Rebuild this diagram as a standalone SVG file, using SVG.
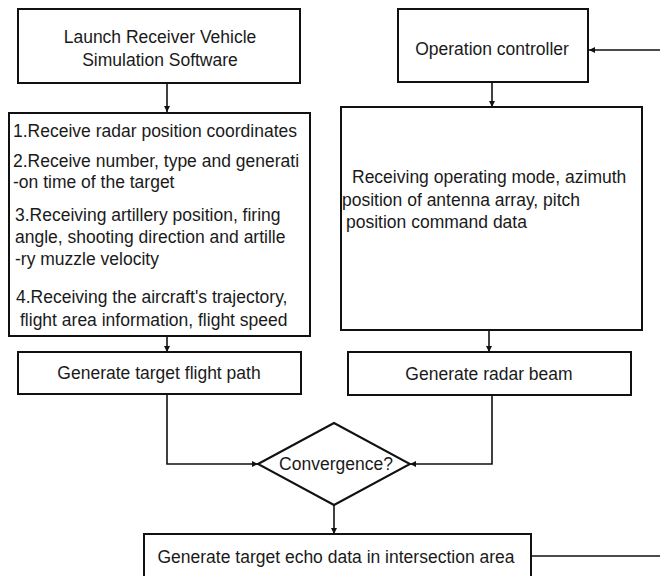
<svg xmlns="http://www.w3.org/2000/svg" width="660" height="576" viewBox="0 0 660 576">
<style>
.box{fill:#fff;stroke:#111;stroke-width:2}
.t{font-family:"Liberation Sans",Arial,sans-serif;font-size:17.5px;fill:#1a1a1a}
.c{text-anchor:middle}
.ln{fill:none;stroke:#111;stroke-width:1.6}
</style>
<defs>
<marker id="ah" viewBox="0 0 10 10" refX="10" refY="5" markerWidth="6" markerHeight="6" orient="auto" markerUnits="userSpaceOnUse">
<path d="M0,0 L10,5 L0,10 z" fill="#111"/>
</marker>
</defs>
<rect width="660" height="576" fill="#fff"/>
<g id="connectors">
<path class="ln" d="M167,83 V112" marker-end="url(#ah)"/>
<path class="ln" d="M167,336 V352" marker-end="url(#ah)"/>
<path class="ln" d="M167,394 V464 H258" marker-end="url(#ah)"/>
<path class="ln" d="M492,82 V107" marker-end="url(#ah)"/>
<path class="ln" d="M489,330 V352" marker-end="url(#ah)"/>
<path class="ln" d="M492,395 V464 H410" marker-end="url(#ah)"/>
<path class="ln" d="M334,505 V534" marker-end="url(#ah)"/>
<path class="ln" d="M531,556 H662 V50 H589" marker-end="url(#ah)"/>
</g>
<g id="launch">
<rect class="box" x="18" y="9" width="282" height="74"/>
<text class="t c" x="160" y="42.5">Launch Receiver Vehicle</text>
<text class="t c" x="160" y="65.5">Simulation Software</text>
</g>
<g id="receive-list">
<rect class="box" x="9" y="113" width="301" height="223"/>
<text class="t" x="13" y="137">1.Receive radar position coordinates</text>
<text class="t" x="13" y="167">2.Receive number, type and generati</text>
<text class="t" x="13" y="188">-on time of the target</text>
<text class="t" x="15" y="221">3.Receiving artillery position, firing</text>
<text class="t" x="15" y="243">angle, shooting direction and artille</text>
<text class="t" x="15" y="265">-ry muzzle velocity</text>
<text class="t" x="16" y="303">4.Receiving the aircraft's trajectory,</text>
<text class="t" x="20" y="326">flight area information, flight speed</text>
</g>
<g id="flight-path">
<rect class="box" x="18" y="352" width="283" height="42"/>
<text class="t c" x="159" y="379">Generate target flight path</text>
</g>
<g id="operation-controller">
<rect class="box" x="398" y="9" width="190" height="73"/>
<text class="t c" x="492" y="55">Operation controller</text>
</g>
<g id="receiving-mode">
<rect class="box" x="341" y="107" width="301" height="223"/>
<text class="t" x="352" y="183">Receiving operating mode, azimuth</text>
<text class="t" x="342" y="206">position of antenna array, pitch</text>
<text class="t" x="346" y="228">position command data</text>
</g>
<g id="radar-beam">
<rect class="box" x="348" y="352" width="283" height="43"/>
<text class="t c" x="489" y="380">Generate radar beam</text>
</g>
<g id="convergence">
<path class="box" d="M258,464 L334,423 L410,464 L334,505 Z"/>
<text class="t c" x="336" y="470">Convergence?</text>
</g>
<g id="echo-data">
<rect class="box" x="144" y="534" width="387" height="50"/>
<text class="t c" x="336" y="563">Generate target echo data in intersection area</text>
</g>
</svg>
